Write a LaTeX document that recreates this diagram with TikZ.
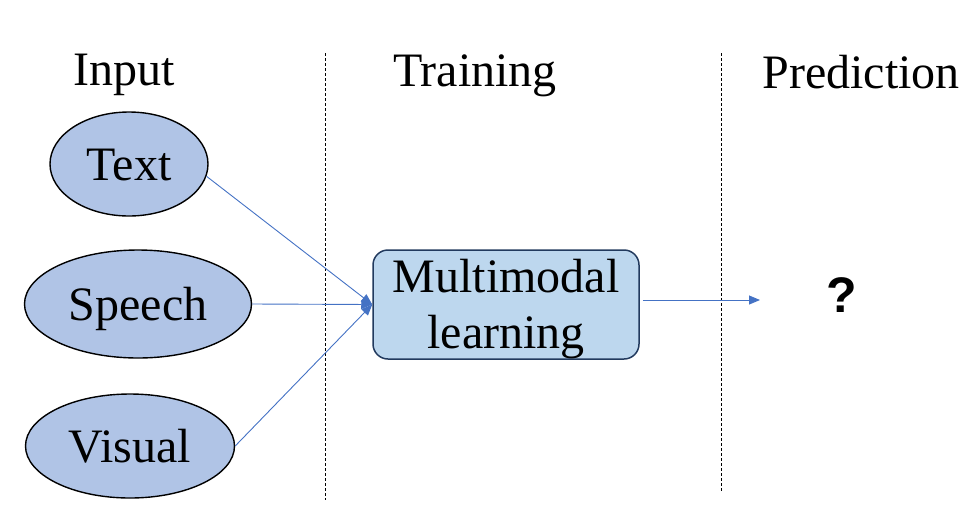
\documentclass[tikz,border=0pt]{standalone}
\usepackage{fontspec}
\setmainfont{Liberation Serif}
\newfontfamily\qfont{Liberation Sans}
\usetikzlibrary{shapes.geometric,arrows.meta}
\definecolor{ellfill}{HTML}{B0C4E6}
\definecolor{boxfill}{HTML}{BDD7EE}
\definecolor{boxline}{HTML}{223A5E}
\definecolor{arrowblue}{HTML}{4472C4}
\tikzset{
  modality/.style={ellipse, draw=black, line width=1.4pt, fill=ellfill, inner sep=0pt,
    font=\fontsize{48}{56}\selectfont, text height=32pt, text depth=0pt},
  heading/.style={anchor=base, inner sep=0pt, font=\fontsize{48}{56}\selectfont},
  learnbox/.style={draw=boxline, line width=1.5pt, fill=boxfill, rounded corners=15pt,
    minimum width=266pt, minimum height=109pt, inner sep=0pt},
  boxtext/.style={align=center, inner sep=0pt, font=\fontsize{48}{56}\selectfont},
  link/.style={draw=arrowblue, line width=0.9pt, -{Triangle[length=11pt,width=9pt]}},
  divider/.style={draw=black, line width=0.8pt, dash pattern=on 3pt off 2pt}
}
\begin{document}
\begin{tikzpicture}[x=1pt,y=-1pt]
\useasboundingbox (0,0) rectangle (969,531);
% headings
\node[heading] (hin) at (124,85) {Input};
\node[heading] (htr) at (475,86) {Training};
\node[heading] (hpr) at (861,88) {Prediction};
% dividers
\coordinate (d1a) at (325,53);
\coordinate (d1b) at (325,500);
\coordinate (d2a) at (721,53);
\coordinate (d2b) at (721,492);
\draw[divider] (d1a) -- (d1b);
\draw[divider] (d2a) -- (d2b);
% inputs
\node[modality, minimum width=158pt, minimum height=104pt] (t) at (129,164) {Text};
\node[modality, minimum width=227pt, minimum height=108pt] (s) at (138,304) {Speech};
\node[modality, minimum width=209pt, minimum height=104pt] (v) at (130,446) {Visual};
% learning box
\node[learnbox] (m) at (506,304.5) {};
\node[boxtext] (mt) at (506,309.5) {Multimodal\\learning};
% output
\coordinate (o) at (760,300);
\node[inner sep=0pt, anchor=base, font=\qfont\bfseries\fontsize{50}{56}\selectfont] (q) at (842,312) {?};
% connectors
\draw[link] (t.-9) -- (m.west);
\draw[link] (s.east) -- (m.west);
\draw[link] (v.east) -- (m.west);
\draw[link] ([xshift=3pt]m.east |- o) -- (o);
\end{tikzpicture}
\end{document}
